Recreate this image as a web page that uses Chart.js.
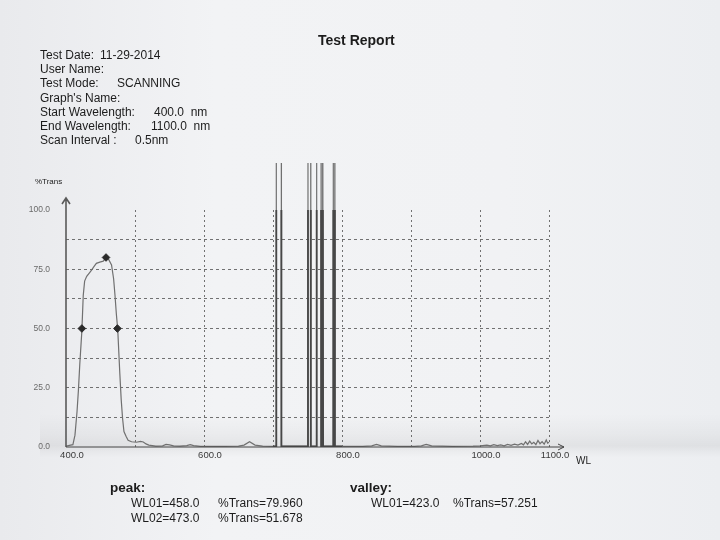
<!DOCTYPE html>
<html>
<head>
<meta charset="utf-8">
<script src="https://cdn.jsdelivr.net/npm/chart.js@4.4.1/dist/chart.umd.min.js"></script>
<style>
  body { margin: 0; background: #eff0f2; }
  #wrap {
    position: relative; width: 720px; height: 540px; overflow: hidden;
    font-family: "Liberation Sans", Arial, sans-serif; color: #1c1c1c;
    background: linear-gradient(90deg, #e9eaed 0%, #f2f3f5 30%, #f1f2f4 70%, #eceef1 100%);
  }
  #wrap canvas { position: absolute; left: 0; top: 0; }
  .t { position: absolute; white-space: nowrap; font-size: 12px; line-height: 14px; }
  .b { font-weight: bold; }
  .fold { position: absolute; left: 40px; top: 414px; width: 680px; height: 44px;
    background: linear-gradient(180deg, rgba(0,0,0,0) 0%, rgba(0,0,0,0.03) 45%, rgba(0,0,0,0.06) 72%, rgba(0,0,0,0.02) 88%, rgba(0,0,0,0) 100%); }
</style>
</head>
<body>
<div id="wrap">
  <div class="fold"></div>
  <canvas id="spectrum" width="720" height="540"></canvas>

  <div class="t b" style="left:318px; top:32px; font-size:14px; line-height:16px;">Test Report</div>

  <div class="t" style="left:40px; top:48px;">Test Date:</div>
  <div class="t" style="left:100px; top:48px;">11-29-2014</div>
  <div class="t" style="left:40px; top:62px;">User Name:</div>
  <div class="t" style="left:40px; top:76px;">Test Mode:</div>
  <div class="t" style="left:117px; top:76px;">SCANNING</div>
  <div class="t" style="left:40px; top:91px;">Graph's Name:</div>
  <div class="t" style="left:40px; top:105px;">Start Wavelength:</div>
  <div class="t" style="left:154px; top:105px;">400.0&nbsp;&nbsp;nm</div>
  <div class="t" style="left:40px; top:119px;">End Wavelength:</div>
  <div class="t" style="left:151px; top:119px;">1100.0&nbsp;&nbsp;nm</div>
  <div class="t" style="left:40px; top:133px;">Scan Interval :</div>
  <div class="t" style="left:135px; top:133px;">0.5nm</div>

  <div class="t" style="left:35px; top:177px; font-size:8px; line-height:10px;">%Trans</div>
  <div class="t" style="left:576px; top:455px; font-size:10px; line-height:12px;">WL</div>

  <div class="t b" style="left:110px; top:480px; font-size:13.5px; line-height:16px;">peak:</div>
  <div class="t" style="left:131px; top:496px;">WL01=458.0</div>
  <div class="t" style="left:218px; top:496px;">%Trans=79.960</div>
  <div class="t" style="left:131px; top:511px;">WL02=473.0</div>
  <div class="t" style="left:218px; top:511px;">%Trans=51.678</div>

  <div class="t b" style="left:350px; top:480px; font-size:13.5px; line-height:16px;">valley:</div>
  <div class="t" style="left:371px; top:496px;">WL01=423.0</div>
  <div class="t" style="left:453px; top:496px;">%Trans=57.251</div>
</div>

<script>
// Спектр пропускания
const wl = [
  400, 405, 410, 413, 416, 418, 420, 423, 425, 427, 430, 434, 437, 441, 444, 449, 454, 458,
  462, 466, 469, 471, 473, 475, 478, 480, 482, 484, 487, 490, 495, 502, 508, 512, 516, 520,
  530, 540, 545, 550, 556, 565, 575, 580, 585, 595, 610, 630, 650, 658, 666, 674, 685, 700,
  704.6, 704.8, 712.0, 712.2, 730, 750.5, 750.7, 754.6, 754.8, 763.1, 763.3, 769.6, 769.8,
  771.4, 771.6, 772.4, 772.6, 787.2, 787.4, 789.5, 789.7,
  800, 830, 843, 850, 857, 880, 905, 915, 922, 930, 960, 990,
  1000, 1010, 1015, 1020, 1025, 1030, 1035, 1040, 1045, 1050, 1055, 1060, 1063, 1066, 1069,
  1072, 1075, 1078, 1081, 1084, 1087, 1090, 1093, 1096, 1098, 1100
];
const trans = [
  0.4, 0.7, 1.0, 5, 15, 24, 35, 49, 64, 70, 72, 73.5, 74.6, 76.3, 77.5, 78, 78.4, 79.9,
  79, 76.8, 71, 64, 56, 49.5, 31, 20, 12, 6.5, 4.5, 2.8, 2.2, 2.0, 2.4, 2.1, 1.3, 0.8,
  0.4, 0.5, 1.1, 0.9, 0.5, 0.4, 0.6, 1.0, 0.6, 0.3, 0.3, 0.3, 0.4, 0.8, 2.2, 0.8, 0.4, 0.3,
  0.3, 200, 200, 0.3, 0.3, 0.3, 200, 200, 0.3, 0.3, 200, 200, 0.3,
  0.3, 200, 200, 0.3, 0.3, 200, 200, 0.3,
  0.3, 0.3, 0.5, 1.1, 0.5, 0.3, 0.3, 0.5, 1.1, 0.5, 0.3, 0.4,
  0.5, 0.8, 0.5, 1.0, 0.6, 0.9, 0.5, 1.1, 0.7, 1.2, 0.8, 1.5, 0.9, 2.2, 1.1,
  2.5, 1.3, 2.0, 1.0, 2.8, 1.4, 2.3, 1.2, 3.0, 1.6, 2.0
];

// Отмеченные точки (пики/долина)
const markWl = [423, 458, 474.5];
const markT = [50, 79.96, 50];

// Подписи осей
const yLabels = [0, 25, 50, 75, 100];
const xLabels = [400, 600, 800, 1000, 1100];

const pts = wl.map((w, i) => ({ x: w, y: trans[i] }));
const spikePts = pts.filter(p => p.x >= 700 && p.x <= 800);
const marks = markWl.map((w, i) => ({ x: w, y: markT[i] }));

// Оси со стрелками
const axisArrows = {
  id: 'axisArrows',
  afterDatasetsDraw(chart) {
    const { ctx, chartArea: a } = chart;
    ctx.save();
    ctx.strokeStyle = '#5a5a5a';
    ctx.lineWidth = 1.6;
    ctx.beginPath();
    ctx.moveTo(a.left, a.bottom);
    ctx.lineTo(a.left, a.top - 12);
    ctx.moveTo(a.left - 4, a.top - 6);
    ctx.lineTo(a.left, a.top - 12);
    ctx.lineTo(a.left + 4, a.top - 6);
    ctx.stroke();
    ctx.strokeStyle = '#444';
    ctx.lineWidth = 1;
    ctx.beginPath();
    ctx.moveTo(a.left, a.bottom);
    ctx.lineTo(a.right + 15, a.bottom);
    ctx.moveTo(a.right + 9, a.bottom - 3);
    ctx.lineTo(a.right + 15, a.bottom);
    ctx.lineTo(a.right + 9, a.bottom + 3);
    ctx.stroke();
    ctx.restore();
  }
};

new Chart(document.getElementById('spectrum'), {
  type: 'line',
  data: {
    datasets: [
      {
        data: pts,
        borderColor: '#707070',
        borderWidth: 1.2,
        pointRadius: 0,
        tension: 0,
        clip: { left: 2, top: 47, right: 2, bottom: 2 },
        order: 3
      },
      {
        data: spikePts,
        borderColor: '#474747',
        borderWidth: 1.8,
        pointRadius: 0,
        tension: 0,
        order: 2
      },
      {
        type: 'scatter',
        data: marks,
        pointStyle: 'rectRot',
        pointRadius: 3.8,
        backgroundColor: '#2a2a2a',
        borderColor: '#2a2a2a',
        showLine: false,
        order: 1
      }
    ]
  },
  options: {
    responsive: false,
    animation: false,
    layout: { padding: { top: 210, right: 171, bottom: 0, left: 0 } },
    plugins: { legend: { display: false }, tooltip: { enabled: false }, title: { display: false } },
    scales: {
      x: {
        type: 'linear',
        min: 400,
        max: 1100,
        afterFit: s => { s.height = 93; },
        ticks: {
          stepSize: 100,
          padding: 3,
          labelOffset: 6,
          maxRotation: 0,
          autoSkip: false,
          color: '#3a3a3a',
          font: { family: 'Liberation Sans', size: 9.5 },
          callback: v => xLabels.includes(v) ? v.toFixed(1) : ''
        },
        grid: {
          drawTicks: false,
          color: c => (c.tick && c.tick.value > 400) ? 'rgba(70,70,70,0.75)' : 'rgba(0,0,0,0)',
          lineWidth: 1
        },
        border: { display: false, dash: [2, 3] }
      },
      y: {
        min: 0,
        max: 100,
        afterFit: s => { s.width = 66; },
        ticks: {
          stepSize: 12.5,
          padding: 16,
          autoSkip: false,
          color: '#6a6a6a',
          font: { family: 'Liberation Sans', size: 8.5 },
          callback: v => yLabels.includes(v) ? v.toFixed(1) : ''
        },
        grid: {
          drawTicks: false,
          color: c => (c.tick && c.tick.value > 0 && c.tick.value < 100) ? 'rgba(70,70,70,0.75)' : 'rgba(0,0,0,0)',
          lineWidth: 1
        },
        border: { display: false, dash: [3, 3] }
      }
    }
  },
  plugins: [axisArrows]
});
</script>
</body>
</html>
